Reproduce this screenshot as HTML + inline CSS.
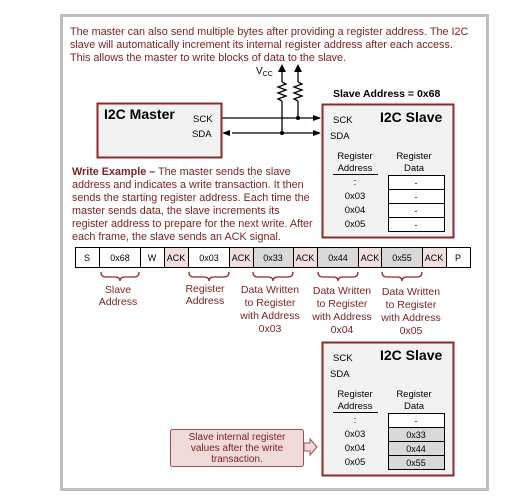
<!DOCTYPE html>
<html><head><style>
body{margin:0;background:#fff;width:529px;height:499px;overflow:hidden}
svg{display:block}
text{font-family:"Liberation Sans",Arial,sans-serif}
</style></head><body>
<svg width="529" height="499" viewBox="0 0 529 499">
<defs>
<marker id="ar" markerWidth="8" markerHeight="8" refX="7" refY="4" orient="auto" markerUnits="userSpaceOnUse"><path d="M0,1 L8,4 L0,7Z" fill="#000"/></marker>
</defs>
<rect x="61.5" y="15.5" width="426" height="474" fill="#fff" stroke="#bdbdbd" stroke-width="3"/>
<g font-size="10.8" fill="#7a2424">
<text x="70" y="35">The master can also send multiple bytes after providing a register address.  The I2C</text>
<text x="70" y="48">slave will automatically increment its internal register address after each access.</text>
<text x="70" y="61">This allows the master to write blocks of data to the slave.</text>
</g>
<text x="256" y="74" font-size="10">V<tspan font-size="7" dy="2">CC</tspan></text>
<g stroke="#000" stroke-width="1.3" fill="none">
<line x1="282" y1="70" x2="282" y2="82"/><line x1="298" y1="70" x2="298" y2="82"/>
<path d="M282,82 l4,2 l-8,3 l8,3 l-8,3 l8,3 l-8,3 l4,2"/>
<path d="M298,82 l4,2 l-8,3 l8,3 l-8,3 l8,3 l-8,3 l4,2"/>
<line x1="282" y1="101" x2="282" y2="133"/><line x1="298" y1="101" x2="298" y2="118"/>
<line x1="222" y1="118" x2="320" y2="118" marker-end="url(#ar)"/>
<line x1="232" y1="133" x2="320" y2="133" marker-end="url(#ar)"/>
</g>
<path d="M282,64 l-4,8 h8z M298,64 l-4,8 h8z M222,133 l8,-3 v6z" fill="#000"/>
<circle cx="282" cy="133" r="2" fill="#000"/><circle cx="298" cy="118" r="2" fill="#000"/>
<rect x="97.5" y="103.5" width="124" height="54" fill="#f2f2f2" stroke="#8b2a2a" stroke-width="2"/>
<text x="104" y="119" font-size="14" font-weight="bold">I2C Master</text>
<text x="193" y="122" font-size="9.5">SCK</text><text x="192" y="137" font-size="9.5">SDA</text>
<text x="333" y="97" font-size="10.5" font-weight="bold">Slave Address = 0x68</text>
<g id="sl">
<rect x="322.5" y="104.5" width="131" height="133" fill="#f2f2f2" stroke="#8b2a2a" stroke-width="2"/>
<text x="333" y="123" font-size="9.5">SCK</text><text x="330" y="139" font-size="9.5">SDA</text>
<text x="380" y="122" font-size="14" font-weight="bold">I2C Slave</text>
<g font-size="9.5" text-anchor="middle"><text x="355" y="159">Register</text><text x="355" y="171">Address</text>
<text x="414" y="159">Register</text><text x="414" y="171">Data</text>
<text x="355" y="185">:</text><text x="355" y="199">0x03</text><text x="355" y="213">0x04</text><text x="355" y="227">0x05</text></g>
<line x1="333" y1="174.5" x2="378" y2="174.5" stroke="#000"/>
</g>
<g fill="#fff" stroke="#000"><rect x="388.5" y="175.5" width="56" height="14"/><rect x="388.5" y="189.5" width="56" height="14"/><rect x="388.5" y="203.5" width="56" height="14"/><rect x="388.5" y="217.5" width="56" height="14"/></g>
<g font-size="9" text-anchor="middle"><text x="416" y="186">-</text><text x="416" y="200">-</text><text x="416" y="214">-</text><text x="416" y="228">-</text></g>
<g font-size="10.8" fill="#7a2424"><text x="72" y="175"><tspan font-weight="bold">Write Example –</tspan> The master sends the slave</text>
<text x="72" y="188">address and indicates a write transaction.  It then</text>
<text x="72" y="201">sends the starting register address.  Each time the</text>
<text x="72" y="214">master sends data, the slave increments its</text>
<text x="72" y="227">register address to prepare for the next write. After</text>
<text x="72" y="240">each frame, the slave sends an ACK signal.</text></g>
<g stroke="#000" stroke-width="1">
<rect x="75.5" y="247.5" width="24" height="20" fill="#fff"/><rect x="99.5" y="247.5" width="41" height="20" fill="#fff"/>
<rect x="140.5" y="247.5" width="24" height="20" fill="#fff"/><rect x="164.5" y="247.5" width="24" height="20" fill="#f3dede"/>
<rect x="188.5" y="247.5" width="41" height="20" fill="#fff"/><rect x="229.5" y="247.5" width="24" height="20" fill="#f3dede"/>
<rect x="253.5" y="247.5" width="40" height="20" fill="#d9d9d9"/><rect x="293.5" y="247.5" width="24" height="20" fill="#f3dede"/>
<rect x="317.5" y="247.5" width="41" height="20" fill="#d9d9d9"/><rect x="358.5" y="247.5" width="23" height="20" fill="#f3dede"/>
<rect x="381.5" y="247.5" width="41" height="20" fill="#d9d9d9"/><rect x="422.5" y="247.5" width="24" height="20" fill="#f3dede"/>
<rect x="446.5" y="247.5" width="24" height="20" fill="#fff"/></g>
<g font-size="9" text-anchor="middle"><text x="87" y="261">S</text><text x="120" y="261">0x68</text><text x="152" y="261">W</text><text x="176" y="261">ACK</text><text x="209" y="261">0x03</text><text x="241" y="261">ACK</text><text x="273" y="261">0x33</text><text x="305" y="261">ACK</text><text x="338" y="261">0x44</text><text x="370" y="261">ACK</text><text x="402" y="261">0x55</text><text x="434" y="261">ACK</text><text x="458" y="261">P</text></g>
<g stroke="#8b2a2a" stroke-width="1.3" fill="none">
<path d="M101,272 q0,5 5,5 h9 q5,0 5,4 q0,-4 5,-4 h9 q5,0 5,-5"/>
<path d="M189,272 q0,5 5,5 h10 q5,0 5,4 q0,-4 5,-4 h10 q5,0 5,-5"/>
<path d="M253,272 q0,5 5,5 h10 q5,0 5,4 q0,-4 5,-4 h10 q5,0 5,-5"/>
<path d="M318,272 q0,5 5,5 h10 q5,0 5,4 q0,-4 5,-4 h10 q5,0 5,-5"/>
<path d="M382,272 q0,5 5,5 h10 q5,0 5,4 q0,-4 5,-4 h10 q5,0 5,-5"/>
</g>
<g font-size="10.5" fill="#7a2424" text-anchor="middle">
<text x="118" y="293">Slave</text><text x="118" y="305">Address</text>
<text x="205" y="292">Register</text><text x="205" y="304">Address</text>
<text x="270" y="293">Data Written</text><text x="270" y="306">to Register</text><text x="270" y="319">with Address</text><text x="270" y="332">0x03</text>
<text x="342" y="294">Data Written</text><text x="342" y="307">to Register</text><text x="342" y="320">with Address</text><text x="342" y="333">0x04</text>
<text x="411" y="295">Data Written</text><text x="411" y="308">to Register</text><text x="411" y="321">with Address</text><text x="411" y="334">0x05</text>
</g>
<use href="#sl" transform="translate(0,238)"/>
<g fill="#fff" stroke="#000"><rect x="388.5" y="413.5" width="56" height="14"/></g>
<g fill="#d9d9d9" stroke="#000"><rect x="388.5" y="427.5" width="56" height="14"/><rect x="388.5" y="441.5" width="56" height="14"/><rect x="388.5" y="455.5" width="56" height="14"/></g>
<g font-size="9" text-anchor="middle"><text x="416" y="424">-</text><text x="416" y="438">0x33</text><text x="416" y="452">0x44</text><text x="416" y="466">0x55</text></g>
<rect x="170.5" y="429.5" width="133" height="37" rx="2" fill="#f1dada" stroke="#a05050"/>
<path d="M304,443 h6 v-4 l7,8 l-7,8 v-4 h-6z" fill="#f1dada" stroke="#a05050"/>
<g font-size="10" fill="#7a2424" text-anchor="middle"><text x="237" y="440">Slave internal register</text><text x="237" y="451">values after the write</text><text x="237" y="462">transaction.</text></g>
</svg>
</body></html>
